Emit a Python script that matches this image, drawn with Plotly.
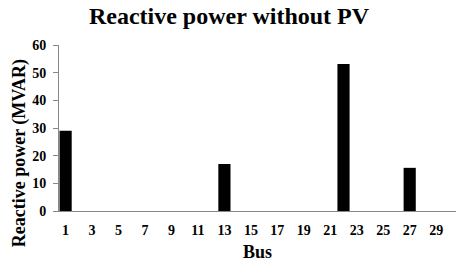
import plotly.graph_objects as go

buses = list(range(1, 31))
reactive_mvar = [0] * 30
reactive_mvar[0] = 29.0   # bus 1
reactive_mvar[12] = 17.0  # bus 13
reactive_mvar[21] = 53.1  # bus 22
reactive_mvar[26] = 15.6  # bus 27

tick_labels = [str(b) for b in range(1, 30, 2)]
y_ticks = [0, 10, 20, 30, 40, 50, 60]

SERIF = "Liberation Serif, Times New Roman, serif"

fig = go.Figure(
    go.Bar(x=buses, y=reactive_mvar, marker_color="black", marker_line_width=0)
)
fig.update_layout(
    width=458,
    height=263,
    margin={"l": 59, "r": 2, "t": 45, "b": 52},
    plot_bgcolor="white",
    paper_bgcolor="white",
    bargap=0.08,
    showlegend=False,
    font={"family": SERIF, "color": "black", "weight": "bold"},
    title={
        "text": "Reactive power without PV",
        "x": 0.5,
        "xanchor": "center",
        "y": 1 - 16 / 263,
        "yanchor": "middle",
        "font": {"size": 24, "family": SERIF, "weight": "bold"},
    },
)
fig.update_xaxes(
    range=[0.5, 30.5],
    tickmode="array",
    tickvals=list(range(1, 30, 2)),
    ticktext=tick_labels,
    showgrid=False,
    showline=True,
    linecolor="#888888",
    linewidth=1,
    ticks="",
    ticklabelstandoff=6,
    tickfont={"size": 14, "weight": "bold"},
)
fig.update_yaxes(
    range=[0, 60],
    tickvals=y_ticks,
    showgrid=False,
    zeroline=False,
    showline=True,
    linecolor="#888888",
    linewidth=1,
    ticks="outside",
    ticklen=5,
    tickcolor="#888888",
    ticklabelstandoff=4,
    tickfont={"size": 14, "weight": "bold"},
)
# axis titles placed like the original (y title sits lower than plot centre)
fig.add_annotation(
    text="Reactive power (MVAR)", textangle=-90, showarrow=False,
    xref="paper", yref="paper", x=-0.1, y=(211 - 153) / 166,
    xanchor="center", yanchor="middle",
    font={"size": 18, "family": SERIF, "weight": "bold"},
)
fig.add_annotation(
    text="Bus", showarrow=False,
    xref="paper", yref="paper", x=0.499, y=(211 - 252) / 166,
    xanchor="center", yanchor="middle",
    font={"size": 18, "family": SERIF, "weight": "bold"},
)

fig.write_html(
    "out.html",
    config={"displayModeBar": False},
    post_script="document.body.style.margin='0';",
)
